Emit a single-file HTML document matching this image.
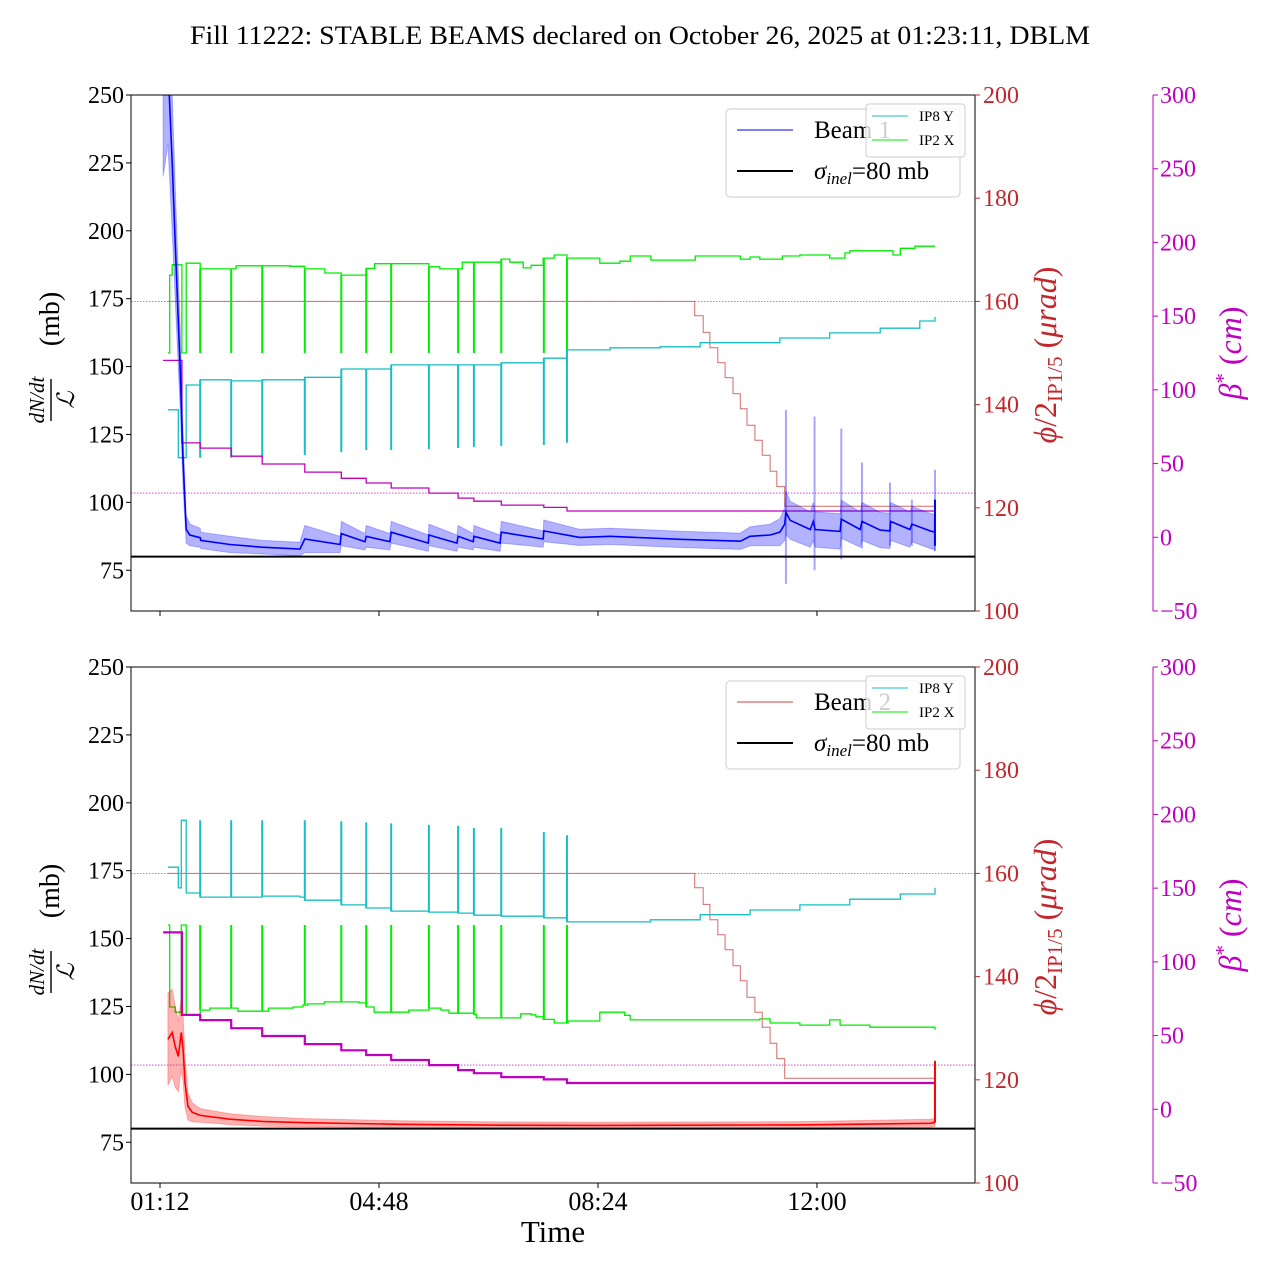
<!DOCTYPE html>
<html><head><meta charset="utf-8">
<style>
html,body{margin:0;padding:0;background:#fff;}
svg{display:block;font-family:"Liberation Serif","DejaVu Serif",serif;}
</style></head>
<body>
<svg id="chart" width="1280" height="1280" viewBox="0 0 1280 1280" xmlns="http://www.w3.org/2000/svg">
<text x="640" y="44" text-anchor="middle" font-size="26" textLength="900" lengthAdjust="spacingAndGlyphs">Fill 11222: STABLE BEAMS declared on October 26, 2025 at 01:23:11, DBLM</text>
<text x="553" y="1242" text-anchor="middle" font-size="31">Time</text>
</svg>
<script>
// ---------- data ----------
const xTickLabels = ["01:12","04:48","08:24","12:00"];
const xTickHours = [1.2,4.8,8.4,12.0];
const leftTicks = [75,100,125,150,175,200,225,250];
const redTicks = [100,120,140,160,180,200];
const magTicks = [-50,0,50,100,150,200,250,300];
const stepT = [1.86,2.37,2.88,3.58,4.18,4.59,5.00,5.62,6.10,6.36,6.81,7.51,7.89];
const sigmaInel = 80;
const crossingRef = 160;
const betaRef = 30;
// top panel (Beam 1)
const b1T = [1.25,1.33,1.40,1.46,1.53,1.58,1.63,1.69,1.86,1.87,2.35,2.88,3.50,3.58,4.16,4.18,4.57,4.59,4.98,5.00,5.61,5.62,6.08,6.10,6.35,6.36,6.79,6.81,7.50,7.51,8.10,8.60,9.75,10.74,10.90,11.23,11.39,11.47,11.49,11.56,11.89,11.94,11.97,12.38,12.40,12.71,12.74,13.04,13.20,13.21,13.53,13.56,13.86,13.94];
const b1V = [250,262,225,190,150,115,90,88,87,86,84.5,83.5,82.8,86.5,84.5,88.5,85.5,87.5,85.5,89,85,88,85,87.5,85.5,87.5,85,89,86.5,89.5,87.1,87.5,86.4,85.7,87.5,88,89,92,96.3,93.4,90,93,90,89.3,93.8,90,93,89.8,89.5,93,90,92,89.5,89];
const b1Err = [30,30,25,20,15,10,5,4,3.5,3,3,2.5,2.5,5,3,4.5,3,4,3,4,3,4,3,4,3,4,3,4,3,4,3,3,3,3,3.5,4,5,6,8,7,6.5,7,6.5,6.5,7,6.5,7,6.5,6.5,7,6.5,6.5,6.5,6.5];
const b1SpikeT = [11.49,11.96,12.40,12.74,13.20,13.56,13.94];
const b1SpikeHi = [134,131.6,127.2,114.7,107.3,101,112];
const b1SpikeLo = [70,75,79,83,84,84,82];
const cyanTopT = [1.33,1.50,1.63,1.86,2.37,2.88,3.58,4.18,5.00,6.10,6.81,7.51,7.89,8.60,9.42,10.08,11.39,12.21,13.04,13.69,13.94];
const cyanTopV = [139.0,129.7,143.8,144.8,144.6,144.8,145.3,146.9,147.7,147.7,148.1,149.0,150.6,151.0,151.2,152.0,152.9,153.9,154.8,156.2,157.0];
const cyanTopSpike = [129.7,129.7,129.7,130.2,130.8,131.2,131.2,131.4,131.6,131.8,132.0,132.2,132.6];
const greenTopT = [1.33,1.36,1.40,1.56,1.63,1.86,2.45,3.34,3.58,3.91,4.18,4.59,4.73,5.62,5.80,6.17,6.81,6.95,7.17,7.30,7.50,7.68,7.89,8.43,8.76,8.93,9.27,10.00,10.74,10.90,11.06,11.43,11.72,12.21,12.46,12.54,13.25,13.37,13.61,13.94];
const greenTopV = [150,165.1,167.1,150,167.4,166.3,166.9,166.8,166.3,165.5,165.1,166.4,167.3,166.7,166.3,167.6,168.2,167.6,166.5,167.0,168.4,169.0,168.4,167.4,167.8,168.8,168.0,168.8,168.2,168.6,168.2,168.8,169.0,168.4,169.4,169.8,169.0,170.3,170.7,170.7];
const greenTopSpike = 150;
const xingT = [1.33,9.99,10.13,10.24,10.37,10.49,10.62,10.74,10.85,10.98,11.10,11.23,11.34,11.47,13.94];
const xingV = [160,157.2,154,151,148.1,145.2,142.1,139.2,136,133.1,130.2,127.1,124.1,120.3,120.3];
const betaT = [1.25,1.56,1.86,2.37,2.88,3.58,4.18,4.59,5.00,5.62,6.10,6.36,6.81,7.51,7.89,13.94];
const betaV = [120,64,60.5,55,49.7,44.2,40,36.8,33.4,30,26.6,24.5,21.8,20.3,17.8,17.8];
// bottom panel (Beam 2)
const b2T = [1.33,1.40,1.45,1.50,1.55,1.58,1.61,1.66,1.73,1.86,2.35,2.88,3.58,5.15,6.79,8.43,11.72,13.86,13.94];
const b2V = [112.9,115.4,110.3,106.6,115.4,109.2,97,88.2,86,84.9,83.5,82.7,82.2,81.6,81.3,81.2,81.4,82.0,82.3];
const b2Err = [17,16,15,13,13,12,9,5,3.5,2.5,2,1.8,1.5,1.3,1.2,1.2,1.2,1.5,1.5];
const b2EndSpike = 105;
const cyanBotT = [1.33,1.50,1.55,1.63,1.86,2.88,3.50,3.58,4.18,4.59,5.00,5.62,6.10,6.36,6.81,7.51,7.89,9.26,10.08,10.90,11.72,12.54,13.37,13.94];
const cyanBotV = [161.2,157.2,170.3,156.2,155.4,155.6,155.4,154.8,153.9,153.3,152.7,152.5,152.3,151.9,151.7,151.4,150.6,151.0,152.0,152.9,153.9,155.0,156.0,157.2];
const cyanBotSpike = [170.3,170.3,170.3,170.3,170.1,169.9,169.7,169.4,169.2,168.8,168.8,168.0,167.4];
const greenBotT = [1.33,1.36,1.45,1.55,1.63,1.86,2.02,2.48,2.98,3.39,3.55,3.63,3.90,4.47,4.59,4.72,5.28,5.29,5.62,5.82,5.95,6.36,6.40,6.94,7.13,7.30,7.38,7.50,7.68,7.91,8.43,8.84,8.93,11.06,11.23,11.72,12.21,12.38,12.87,13.94];
const greenBotV = [150,134.1,133.1,150,132.6,133.5,133.9,133.3,133.9,134.1,134.5,134.7,135.1,134.9,134.1,133.1,133.1,133.5,133.9,133.5,132.9,132.7,132.0,132.0,132.8,132.6,132.2,131.7,131.0,131.4,133.1,132.5,131.6,131.8,131.0,130.6,131.6,130.6,130.2,129.7];
const greenBotSpike = 150;

// ---------- helpers ----------
const NS = "http://www.w3.org/2000/svg";
const svg = document.getElementById("chart");
const X0 = 131, X1 = 975, T0 = 0.723, T1 = 14.598;
function xs(t){ return X0 + (t - T0) / (T1 - T0) * (X1 - X0); }
function mk(tag, attrs, parent){
  const e = document.createElementNS(NS, tag);
  for (const k in attrs) e.setAttribute(k, attrs[k]);
  (parent || svg).appendChild(e);
  return e;
}
const RED = "#c1272d", MAG = "#bf00bf";

function stepPath(T, V, ys){
  let d = "M" + xs(T[0]).toFixed(1) + "," + ys(V[0]).toFixed(1);
  for (let i = 1; i < T.length; i++){
    d += "H" + xs(T[i]).toFixed(1) + "V" + ys(V[i]).toFixed(1);
  }
  return d;
}
function linePath(T, V, ys){
  return T.map((t,i)=>(i?"L":"M")+xs(t).toFixed(1)+","+ys(V[i]).toFixed(1)).join("");
}

function panel(top, idx){
  const H = 516;
  const yL = v => top + (250 - v) / 190 * H;
  const yR = v => top + (200 - v) / 100 * H;
  const yM = v => top + (300 - v) / 350 * H;
  const g = mk("g", {});
  
  
  const cid = "clip" + idx;
  const cp = mk("clipPath", {id: cid}, g);
  mk("rect", {x: X0, y: top, width: X1 - X0, height: H}, cp);
  const d = mk("g", {"clip-path": "url(#" + cid + ")"}, g);
  
  

  const rl = mk("line", {x1: X0, x2: X1, y1: yR(crossingRef), y2: yR(crossingRef), stroke: RED, "stroke-width": 0.8, "stroke-dasharray": "1.5,1.5", opacity: 0.8}, d);
  
  
  const ml = mk("line", {x1: X0, x2: X1, y1: yM(betaRef), y2: yM(betaRef), stroke: MAG, "stroke-width": 0.8, "stroke-dasharray": "1.5,1.5", opacity: 0.8}, d);
  
  

  const isTop = idx === 1;
  const cT = isTop ? cyanTopT : cyanBotT, cV = isTop ? cyanTopV : cyanBotV, cS = isTop ? cyanTopSpike : cyanBotSpike;
  const gT = isTop ? greenTopT : greenBotT, gV = isTop ? greenTopV : greenBotV, gS = isTop ? greenTopSpike : greenBotSpike;

  const gp = mk("path", {d: stepPath(gT, gV, yR), fill: "none", stroke: "#00ee00", "stroke-width": 1.3}, d);
  
  
  const cpth = mk("path", {d: stepPath(cT, cV, yR), fill: "none", stroke: "#17bfc4", "stroke-width": 1.3}, d);
  
  
  const vAt = (T, V, t) => { let v = V[0]; for (let i = 0; i < T.length; i++){ if (T[i] <= t) v = V[i]; } return v; };
  stepT.forEach((t, i) => {
    const s1 = mk("line", {x1: xs(t), x2: xs(t), y1: yR(vAt(gT, gV, t)), y2: yR(gS), stroke: "#00ee00", "stroke-width": 2}, d);
    
    
    const s2 = mk("line", {x1: xs(t), x2: xs(t), y1: yR(vAt(cT, cV, t)), y2: yR(cS[i]), stroke: "#17bfc4", "stroke-width": 2}, d);
    
    
  });
  const xp = mk("path", {d: stepPath(xingT, xingV, yR), fill: "none", stroke: "#d66a6a", "stroke-width": 1}, d);
  
  
  const bp = mk("path", {d: stepPath(betaT, betaV, yM), fill: "none", stroke: MAG, "stroke-width": isTop ? 1.3 : 2.2}, d);
  
  

  const T = isTop ? b1T : b2T, V = isTop ? b1V : b2V, E = isTop ? b1Err : b2Err;
  const col = isTop ? "#0000ff" : "#ff0000";
  const up = V.map((v,i)=>v+E[i]), lo = V.map((v,i)=>v-E[i]);
  let bd = linePath(T, up, yL);
  for (let i = T.length - 1; i >= 0; i--) bd += "L" + xs(T[i]).toFixed(1) + "," + yL(lo[i]).toFixed(1);
  const band = mk("path", {d: bd + "Z", fill: col, "fill-opacity": 0.3, stroke: col, "stroke-opacity": 0.25, "stroke-width": 1}, d);
  
  
  if (isTop){
    b1SpikeT.forEach((t,i)=>{
      const s = mk("line", {x1: xs(t), x2: xs(t), y1: yL(b1SpikeHi[i]), y2: yL(b1SpikeLo[i]), stroke: col, "stroke-opacity": 0.35, "stroke-width": 2}, d);
      
      
    });
  }
  const ln = mk("path", {d: linePath(T, V, yL), fill: "none", stroke: col, "stroke-width": 1.6}, d);
  
  
  const lastT = T[T.length-1];
  const es = mk("line", {x1: xs(lastT), x2: xs(lastT), y1: yL(isTop ? 84 : V[V.length-1]), y2: yL(isTop ? 101 : b2EndSpike), stroke: col, "stroke-width": 2}, d);
  
  

  const sl = mk("line", {x1: X0, x2: X1, y1: yL(sigmaInel), y2: yL(sigmaInel), stroke: "#000", "stroke-width": 2}, g);
  
  

  const fr = mk("rect", {x: X0, y: top, width: X1 - X0, height: H, fill: "none", stroke: "#000", "stroke-width": 1}, g);
  
  

  leftTicks.forEach(v => {
    const y = yL(v);
    mk("line", {x1: X0 - 5, x2: X0, y1: y, y2: y, stroke: "#000", "stroke-width": 1}, g);
    const tx = mk("text", {x: X0 - 7, y: y + 8, "text-anchor": "end", "font-size": 24}, g);
    tx.textContent = v;
    
    
  });
  redTicks.forEach(v => {
    const y = yR(v);
    mk("line", {x1: X1, x2: X1 + 5, y1: y, y2: y, stroke: RED, "stroke-width": 1}, g);
    const tx = mk("text", {x: X1 + 8, y: y + 8, "font-size": 24, fill: RED}, g);
    tx.textContent = v;
    
    
  });
  const ma = mk("line", {x1: 1153, x2: 1153, y1: top, y2: top + H, stroke: MAG, "stroke-width": 1}, g);
  
  
  magTicks.forEach(v => {
    const y = yM(v);
    mk("line", {x1: 1153, x2: 1158, y1: y, y2: y, stroke: MAG, "stroke-width": 1}, g);
    const tx = mk("text", {x: 1160, y: y + 8, "font-size": 24, fill: MAG}, g);
    tx.textContent = v < 0 ? "\u2212" + Math.abs(v) : v;
    
    
  });
  xTickHours.forEach((h, i) => {
    const x = xs(h);
    mk("line", {x1: x, x2: x, y1: top + H, y2: top + H + 5, stroke: "#000", "stroke-width": 1}, g);
    if (!isTop){
      const tx = mk("text", {x: x, y: top + H + 27, "text-anchor": "middle", "font-size": 26}, g);
      tx.textContent = xTickLabels[i];
      
      
    }
  });

  const cy = top + 258;
  const lg = mk("g", {transform: "translate(50," + cy + ") rotate(-90)"}, g);
  
  
  const n1 = mk("text", {x: -47, y: -6, "text-anchor": "middle", "font-size": 21, "font-style": "italic"}, lg); n1.textContent = "dN/dt";
  mk("line", {x1: -68, x2: -26, y1: 1, y2: 1, stroke: "#000", "stroke-width": 1.4}, lg);
  const n2 = mk("text", {x: -47, y: 24, "text-anchor": "middle", "font-size": 24, "font-style": "italic"}, lg); n2.textContent = "\u2112";
  const n3 = mk("text", {x: 34, y: 9, "text-anchor": "middle", "font-size": 28}, lg); n3.textContent = "(mb)";

  const rg = mk("g", {transform: "translate(1056," + (top + 260) + ") rotate(-90)"}, g);
  
  
  const r1 = mk("text", {x: 0, y: 0, "text-anchor": "middle", "font-size": 32, fill: RED}, rg);
  r1.innerHTML = '<tspan font-style="italic">\u03D5</tspan>/2<tspan font-size="21" dy="6">IP1/5</tspan><tspan dy="-6"> (</tspan><tspan font-style="italic">\u03BCrad</tspan>)';

  const mg = mk("g", {transform: "translate(1241," + (top + 258) + ") rotate(-90)"}, g);
  
  
  const m1 = mk("text", {x: 0, y: 0, "text-anchor": "middle", "font-size": 32, fill: MAG}, mg);
  m1.innerHTML = '<tspan font-style="italic">\u03B2</tspan><tspan font-size="21" dy="-11">*</tspan><tspan dy="11"> (</tspan><tspan font-style="italic">cm</tspan>)';

  const L = mk("g", {}, g);
  
  
  mk("rect", {x: 726, y: top + 14, width: 234, height: 88, rx: 4, fill: "#fff", "fill-opacity": 0.8, stroke: "#ccc", "stroke-width": 1}, L);
  const e1 = mk("g", {}, L);
  
  
  mk("line", {x1: 737, x2: 793, y1: top + 35, y2: top + 35, stroke: isTop ? "#0000ff" : "#d64040", "stroke-width": 1}, e1);
  const et = mk("text", {x: 814, y: top + 43, "font-size": 25}, e1); et.textContent = isTop ? "Beam 1" : "Beam 2";
  const e2 = mk("g", {}, L);
  
  
  mk("line", {x1: 737, x2: 793, y1: top + 76, y2: top + 76, stroke: "#000", "stroke-width": 2}, e2);
  const st = mk("text", {x: 814, y: top + 84, "font-size": 25}, e2);
  st.innerHTML = '<tspan font-style="italic">\u03C3</tspan><tspan font-size="17" dy="5" font-style="italic">inel</tspan><tspan dy="-5">=80 mb</tspan>';

  const I = mk("g", {}, g);
  
  
  mk("rect", {x: 866, y: top + 9, width: 99, height: 53, rx: 3, fill: "#fff", "fill-opacity": 0.8, stroke: "#ccc", "stroke-width": 1}, I);
  mk("line", {x1: 872, x2: 908, y1: top + 21, y2: top + 21, stroke: "#17bfc4", "stroke-width": 1}, I);
  const i1 = mk("text", {x: 919, y: top + 26, "font-size": 15}, I); i1.textContent = "IP8 Y";
  
  
  mk("line", {x1: 872, x2: 908, y1: top + 45, y2: top + 45, stroke: "#00ee00", "stroke-width": 1}, I);
  const i2 = mk("text", {x: 919, y: top + 50, "font-size": 15}, I); i2.textContent = "IP2 X";
  
  
}
panel(95, 1);
panel(667, 2);
</script>
</body></html>
